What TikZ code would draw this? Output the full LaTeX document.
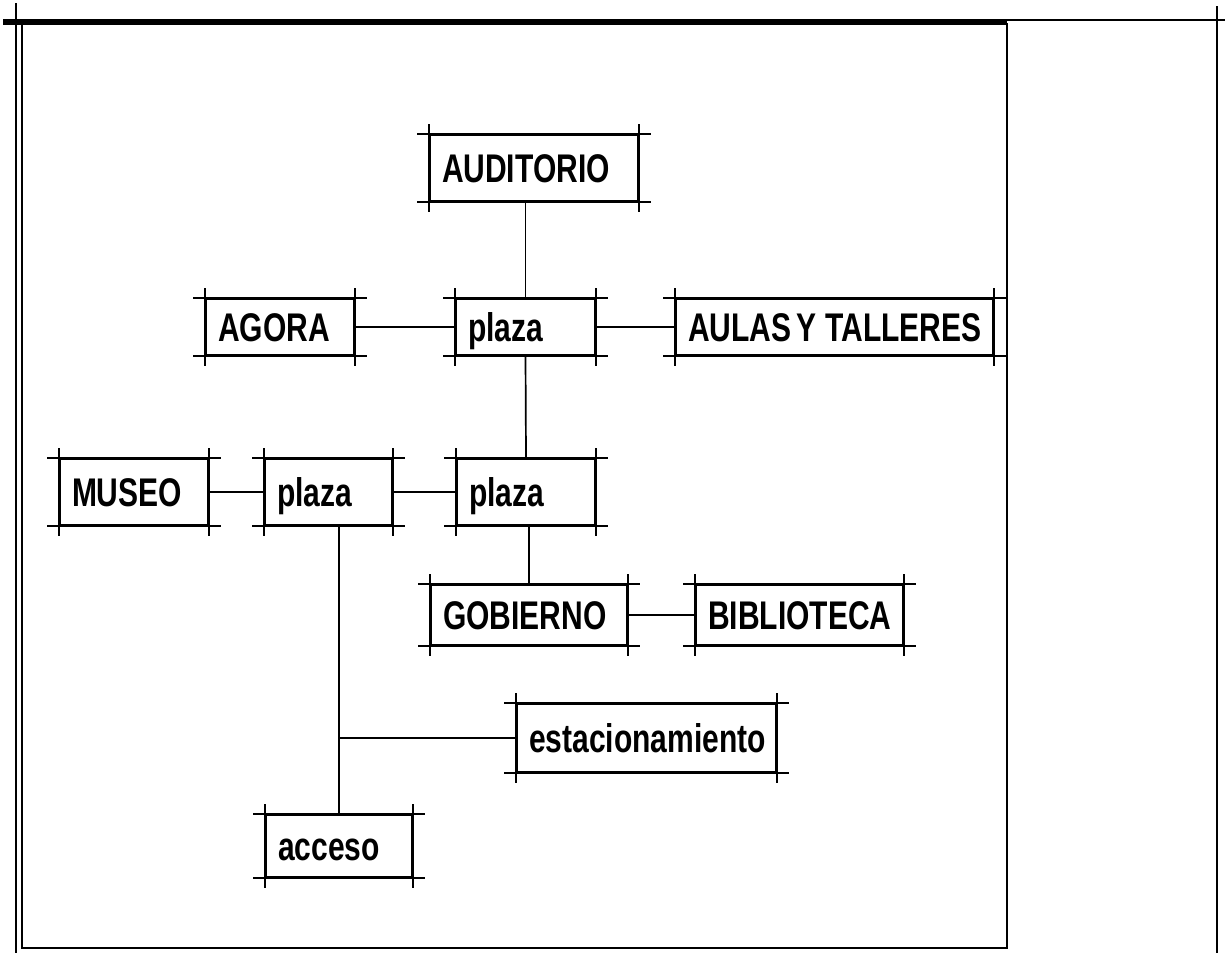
\documentclass[tikz,border=0pt]{standalone}
\usepackage{fontspec}
\newfontfamily\rotulo{Liberation Sans}[FakeStretch=0.75]
\begin{document}
\begin{tikzpicture}[x=1pt,y=-1pt,
  espacio/.style={draw,line width=1.9pt,inner xsep=12pt,inner ysep=0pt,align=left,
    text height=28pt,text depth=0pt,
    font=\rotulo\bfseries\fontsize{40}{44}\selectfont},
  enlace/.style={line width=1.7pt}]
\useasboundingbox (0,0) rectangle (1225,953);
% marco de la lamina
\draw[line width=1.2pt] (3,20) -- (1225,20);
\draw[line width=5pt] (3,22) -- (1007,22);
\draw[line width=1.2pt] (16,3) -- (16,953);
\draw[line width=1.2pt] (1217,6) -- (1217,953);
\draw[line width=2.5pt] (22,24) rectangle (1007,948);
% espacios
\node[espacio,text width=184pt,minimum height=66pt] (aud) at (534,168) {AUDITORIO};
\node[espacio,text width=124pt,minimum height=56pt] (ago) at (280,327) {AGORA};
\node[espacio,text width=115pt,minimum height=56pt] (pla) at (525.5,327) {plaza};
\node[espacio,text width=293pt,minimum height=56pt] (aul) at (834.5,327) {\mbox{AULAS\kern5pt Y\kern9pt TALLERES}};
\node[espacio,text width=124pt,minimum height=66pt] (mus) at (134,492) {MUSEO};
\node[espacio,text width=103pt,minimum height=66pt] (plb) at (328.5,492) {plaza};
\node[espacio,text width=114pt,minimum height=66pt] (plc) at (526,492) {plaza};
\node[espacio,text width=172pt,minimum height=60pt] (gob) at (529,615) {GOBIERNO};
\node[espacio,text width=183pt,minimum height=60pt] (bib) at (799.5,615) {BIBLIOTECA};
\node[espacio,text width=235pt,minimum height=68pt] (est) at (646.5,738) {estacionamiento};
\node[espacio,text width=122pt,minimum height=62pt] (acc) at (339,846) {acceso};
% lineas de trazo que sobresalen
\foreach \n in {aud,ago,pla,aul,mus,plb,plc,gob,bib,est,acc}{
  \draw[line width=1.9pt] ([xshift=-12pt]\n.north west) -- ([xshift=12pt]\n.north east);
  \draw[line width=1.9pt] ([xshift=-12pt]\n.south west) -- ([xshift=12pt]\n.south east);
  \draw[line width=1.9pt] ([yshift=10pt]\n.north west) -- ([yshift=-10pt]\n.south west);
  \draw[line width=1.9pt] ([yshift=10pt]\n.north east) -- ([yshift=-10pt]\n.south east);
}
% relaciones
\draw[enlace] (pla.north) -- (pla.north |- aud.south);
\draw[enlace] (ago.east) -- (pla.west);
\draw[enlace] (pla.east) -- (aul.west);
\draw[enlace] (pla.south) -- (plc.north);
\draw[enlace] (mus.east) -- (plb.west);
\draw[enlace] (plb.east) -- (plc.west);
\draw[enlace] (gob.north) -- (gob.north |- plc.south);
\draw[enlace] (gob.east) -- (bib.west);
\draw[enlace] (acc.north) -- (acc.north |- plb.south);
\draw[enlace] (acc.north |- est.west) -- (est.west);
\end{tikzpicture}
\end{document}
